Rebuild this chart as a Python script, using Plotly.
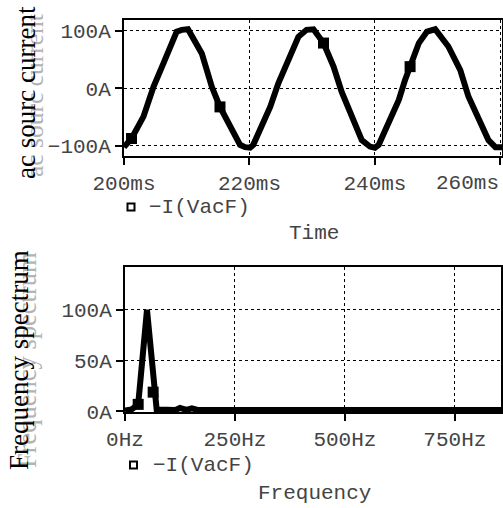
import plotly.graph_objects as go

# ---- data ----
time_ms = [200, 201.2, 203.1, 204.7, 206.3, 208.4, 209.2, 210.2, 212.4, 214.0, 215.3, 216.9,
           218.5, 219.3, 220.1, 220.6, 221.9, 223.3, 224.6, 226.2, 227.8, 229.1, 230.2, 231.8,
           233.4, 234.7, 236.3, 237.9, 239.2, 240.0, 240.6, 242.2, 243.8, 244.8, 245.6, 247.0,
           248.3, 249.6, 251.7, 253.6, 254.9, 256.5, 258.1, 259.2, 260.5]
current_A = [-102, -87, -49, 3, 44, 99, 102, 103, 61, 3, -32, -66,
             -98, -102, -103, -98, -66, -32, 9, 50, 90, 102, 103, 79,
             38, -6, -49, -90, -101, -103, -98, -61, -20, 15, 38, 79,
             99, 103, 73, 32, -14, -55, -90, -102, -102]
time_marker_ms = [201.2, 215.3, 231.8, 245.6]
time_marker_A = [-87, -32, 79, 38]

freq_Hz = [0, 15, 30, 50, 72, 100, 115, 125, 140, 152, 165, 855]
spectrum_A = [1, 2, 7, 100, 2, 1.5, 1.5, 3.5, 1.5, 3, 1.5, 1.5]
freq_marker_Hz = [30, 64]
freq_marker_A = [7, 19]

time_ticks = [200, 220, 240, 260]
time_ticktext = ["200ms", "220ms", "240ms", ""]   # last label drawn right-aligned below
time_last_label = "260ms"
cur_ticks = [-100, 0, 100]
cur_ticktext = ["\u2212100A", "0A", "100A"]
freq_ticks = [0, 250, 500, 750]
freq_ticktext = ["0Hz", "250Hz", "500Hz", "750Hz"]
spec_ticks = [0, 50, 100]
spec_ticktext = ["0A", "50A", "100A"]

W, H = 503, 508
MONO = "Liberation Mono"
SERIF = "Liberation Serif"
TXT = "#444"
TICKFONT = dict(family=MONO, size=21, color=TXT)

fig = go.Figure()
fig.add_trace(go.Scatter(x=time_ms, y=current_A, mode="lines",
                         line=dict(color="black", width=6), xaxis="x", yaxis="y",
                         showlegend=False))
fig.add_trace(go.Scatter(x=time_marker_ms, y=time_marker_A, mode="markers",
                         marker=dict(symbol="square", size=11, color="black"),
                         xaxis="x", yaxis="y", showlegend=False))
fig.add_trace(go.Scatter(x=freq_Hz, y=spectrum_A, mode="lines",
                         line=dict(color="black", width=6), xaxis="x2", yaxis="y2",
                         showlegend=False))
fig.add_trace(go.Scatter(x=freq_marker_Hz, y=freq_marker_A, mode="markers",
                         marker=dict(symbol="square", size=11, color="black"),
                         xaxis="x2", yaxis="y2", showlegend=False))

def px(x):
    return x / W

def py(y):
    return 1 - y / H

axis_common = dict(showline=True, linecolor="black", linewidth=2, mirror=True,
                   showgrid=True, gridcolor="black", gridwidth=1, griddash="dot",
                   ticks="outside", ticklen=7, tickcolor="black", tickwidth=2,
                   tickfont=TICKFONT, zeroline=False, automargin=False,
                   ticklabeloverflow="allow")

fig.update_layout(
    width=W, height=H, margin=dict(l=0, r=0, t=0, b=0, pad=0, autoexpand=False),
    paper_bgcolor="white", plot_bgcolor="white", showlegend=False,
    xaxis=dict(domain=[px(124), px(502)], range=[200, 260.25], anchor="y",
               tickvals=time_ticks, ticktext=time_ticktext, **axis_common),
    yaxis=dict(domain=[py(156), py(20)], range=[-117.4, 119.1], anchor="x",
               tickvals=cur_ticks, ticktext=cur_ticktext, **axis_common),
    xaxis2=dict(domain=[px(125), px(501)], range=[0, 855], anchor="y2",
                tickvals=freq_ticks, ticktext=freq_ticktext, **axis_common),
    yaxis2=dict(domain=[py(412), py(267)], range=[-0.5, 142], anchor="x2",
                tickvals=spec_ticks, ticktext=spec_ticktext, **axis_common),
)

annotations = []
# y titles: gray shadow then black
annotations.append(dict(text="ac sourc current", x=px(34), y=py(96), xref="paper", yref="paper",
                        textangle=-90, showarrow=False, xanchor="center", yanchor="middle",
                        font=dict(family=SERIF, size=25.5, color="#b3b3b3")))
annotations.append(dict(text="ac sourc current", x=px(26), y=py(93), xref="paper", yref="paper",
                        textangle=-90, showarrow=False, xanchor="center", yanchor="middle",
                        font=dict(family=SERIF, size=27, color="black")))
annotations.append(dict(text="Frequency spectrum", x=px(27), y=py(360), xref="paper", yref="paper",
                        textangle=-90, showarrow=False, xanchor="center", yanchor="middle",
                        font=dict(family=SERIF, size=26.5, color="#b3b3b3")))
annotations.append(dict(text="Frequency spectrum", x=px(19), y=py(360), xref="paper", yref="paper",
                        textangle=-90, showarrow=False, xanchor="center", yanchor="middle",
                        font=dict(family=SERIF, size=27, color="black")))
# last time tick label, right-aligned to the plot edge as in the reference
annotations.append(dict(text=time_last_label, x=px(501), y=py(183), xref="paper", yref="paper",
                        showarrow=False, xanchor="right", yanchor="middle",
                        font=TICKFONT))
# legends
annotations.append(dict(text="\u2212I(VacF)", x=px(147), y=py(208), xref="paper", yref="paper",
                        showarrow=False, xanchor="left", yanchor="middle",
                        font=dict(family=MONO, size=21, color=TXT)))
annotations.append(dict(text="\u2212I(VacF)", x=px(151), y=py(465), xref="paper", yref="paper",
                        showarrow=False, xanchor="left", yanchor="middle",
                        font=dict(family=MONO, size=21, color=TXT)))
# axis titles
annotations.append(dict(text="Time", x=px(314), y=py(233), xref="paper", yref="paper",
                        showarrow=False, xanchor="center", yanchor="middle",
                        font=dict(family=MONO, size=21, color=TXT)))
annotations.append(dict(text="Frequency", x=px(314), y=py(493), xref="paper", yref="paper",
                        showarrow=False, xanchor="center", yanchor="middle",
                        font=dict(family=MONO, size=21, color=TXT)))
fig.update_layout(annotations=annotations)

shapes = []
for cx, cy in [(131, 207), (133.5, 465)]:
    shapes.append(dict(type="rect", xref="paper", yref="paper",
                       x0=px(cx - 3.5), x1=px(cx + 3.5), y0=py(cy + 3.5), y1=py(cy - 3.5),
                       line=dict(color="black", width=2), fillcolor="white"))
fig.update_layout(shapes=shapes)

fig.write_html("out.html")
